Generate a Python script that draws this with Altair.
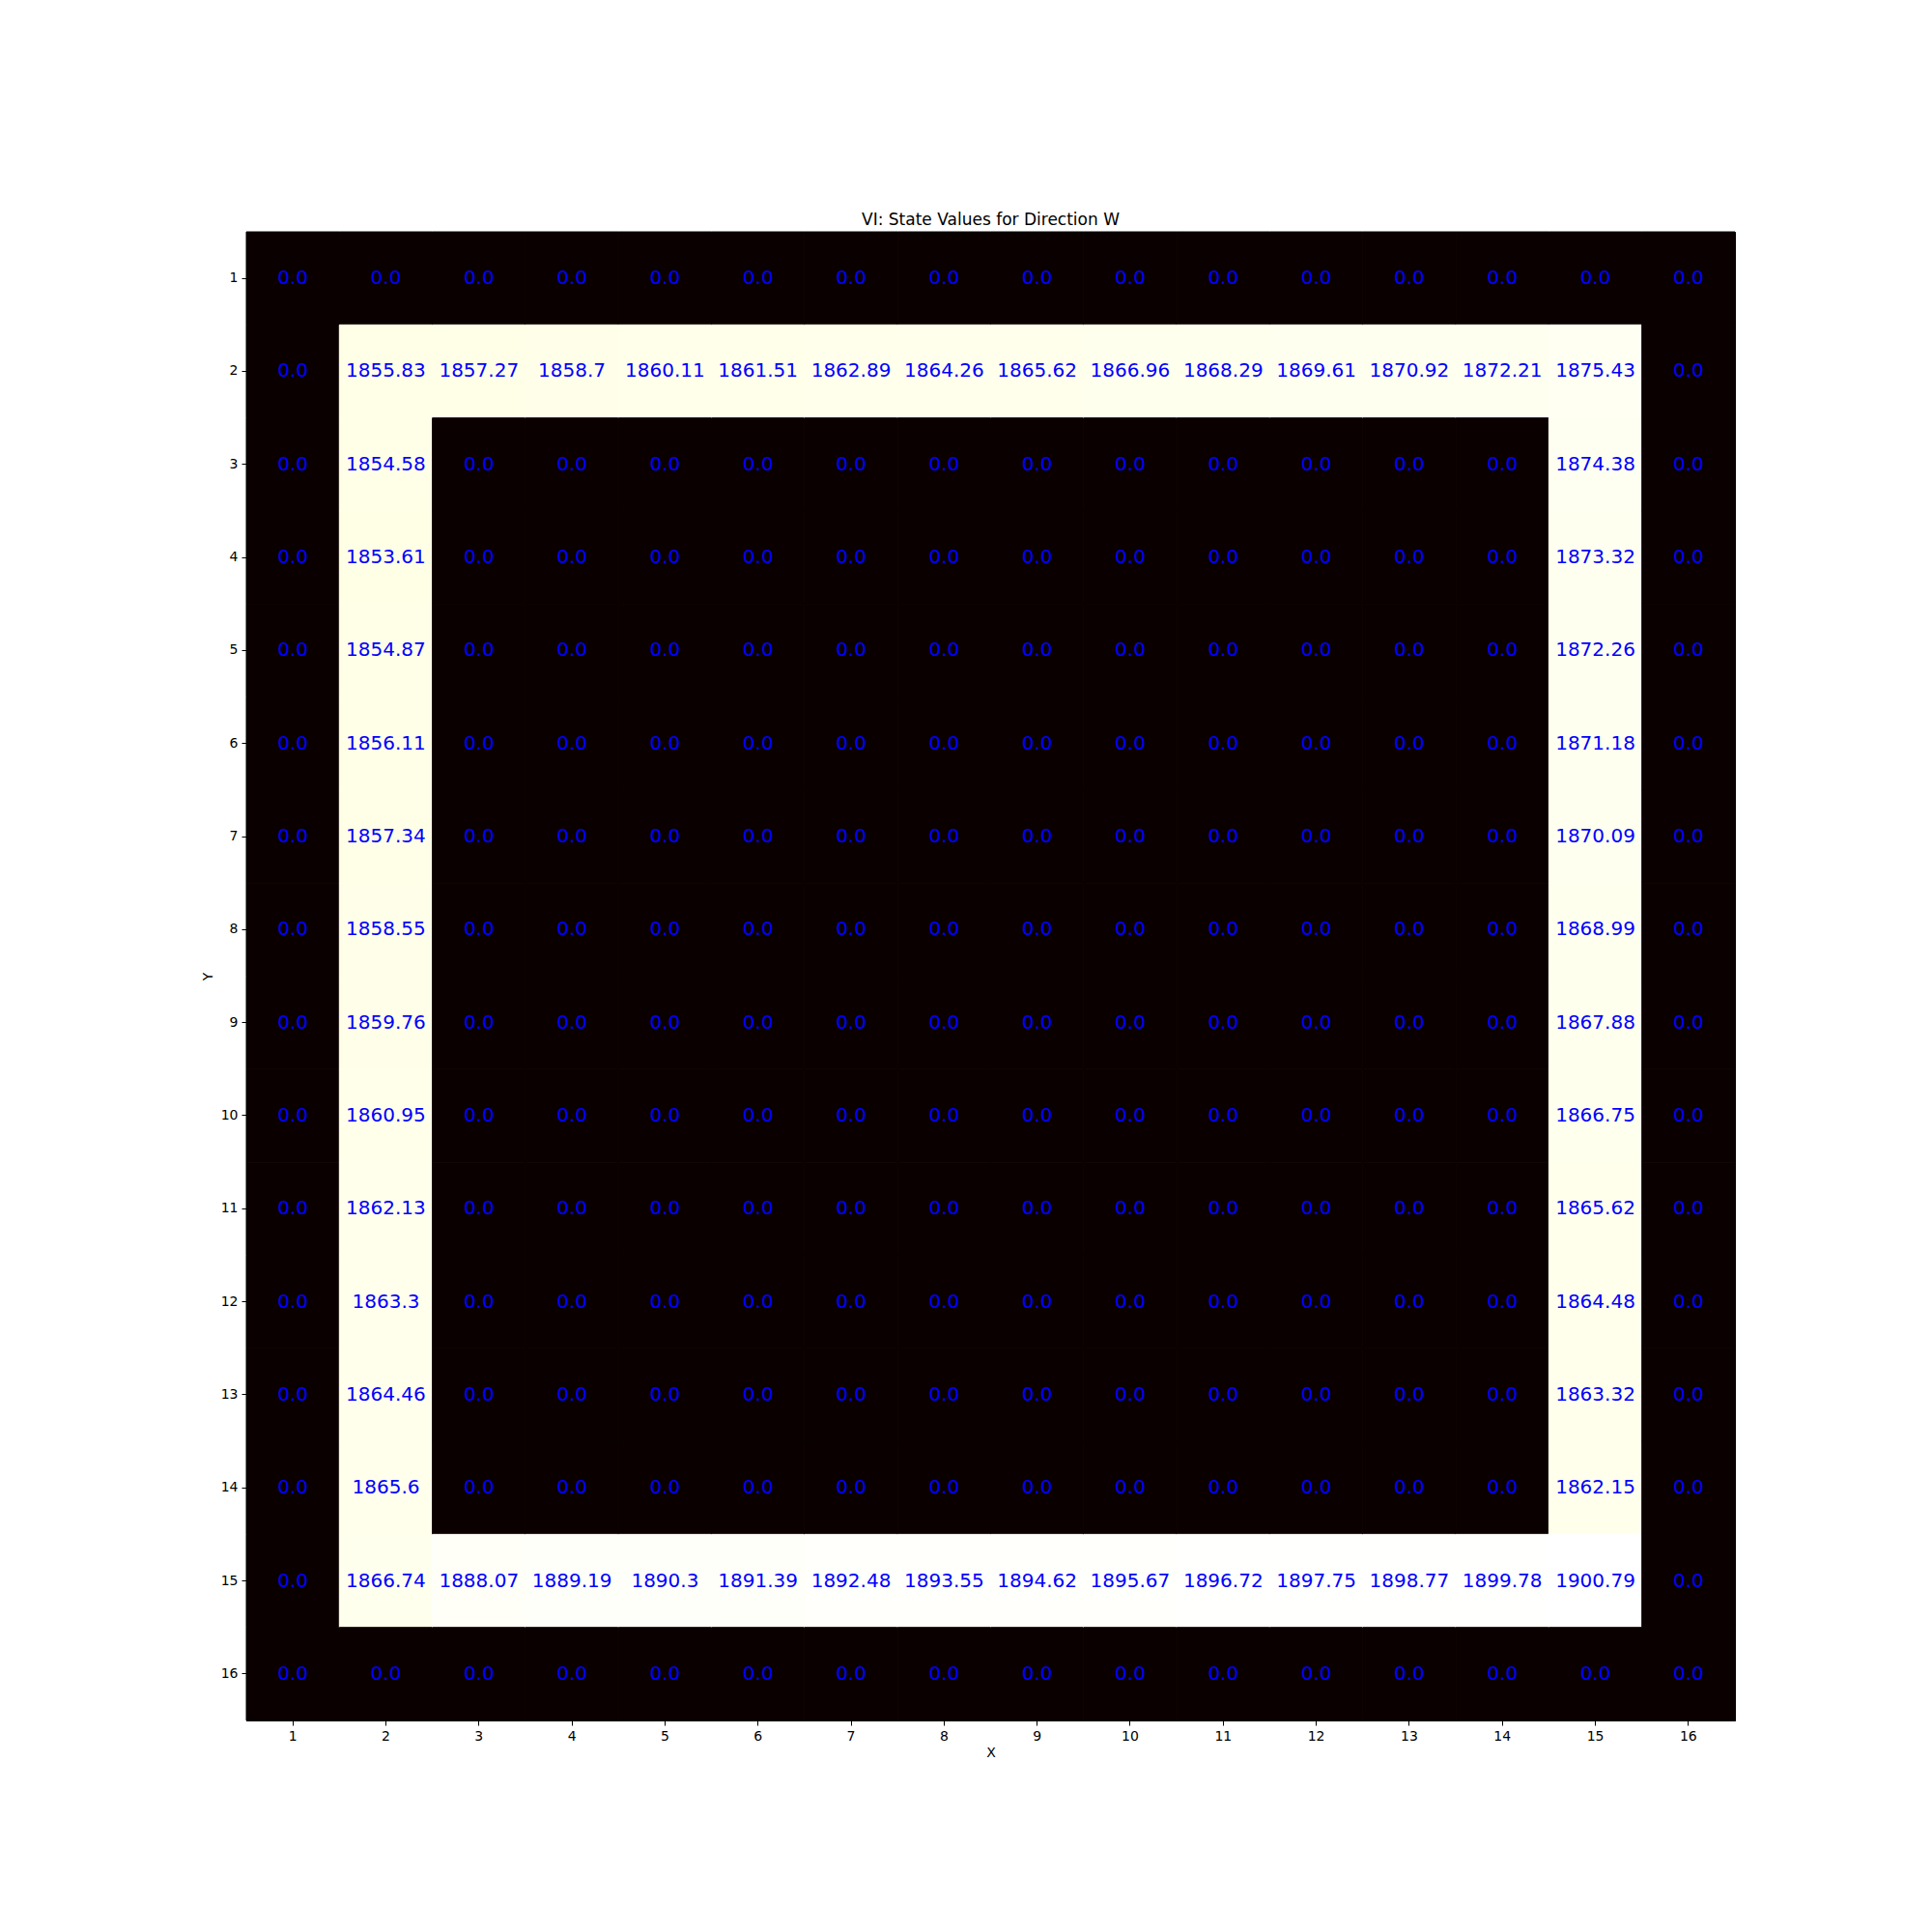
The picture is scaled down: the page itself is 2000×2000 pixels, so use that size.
import altair as alt
import pandas as pd

# ---- data ----
x_ticks = list(range(1, 17))
y_ticks = list(range(1, 17))

# row Y=2, X=2..15
top_row = [1855.83, 1857.27, 1858.7, 1860.11, 1861.51, 1862.89, 1864.26,
           1865.62, 1866.96, 1868.29, 1869.61, 1870.92, 1872.21, 1875.43]
# column X=2, Y=3..14
left_col = [1854.58, 1853.61, 1854.87, 1856.11, 1857.34, 1858.55,
            1859.76, 1860.95, 1862.13, 1863.3, 1864.46, 1865.6]
# row Y=15, X=2..15
bottom_row = [1866.74, 1888.07, 1889.19, 1890.3, 1891.39, 1892.48, 1893.55,
              1894.62, 1895.67, 1896.72, 1897.75, 1898.77, 1899.78, 1900.79]
# column X=15, Y=3..14
right_col = [1874.38, 1873.32, 1872.26, 1871.18, 1870.09, 1868.99,
             1867.88, 1866.75, 1865.62, 1864.48, 1863.32, 1862.15]

grid = {(x, y): 0.0 for x in x_ticks for y in y_ticks}
for i, v in enumerate(top_row):
    grid[(i + 2, 2)] = v
for i, v in enumerate(bottom_row):
    grid[(i + 2, 15)] = v
for i, v in enumerate(left_col):
    grid[(2, i + 3)] = v
for i, v in enumerate(right_col):
    grid[(15, i + 3)] = v

df = pd.DataFrame(
    [{"X": x, "Y": y, "value": v, "label": str(v)} for (x, y), v in grid.items()]
)

vmax = max(grid.values())
# matplotlib "hot" colormap stops
hot_stops = [0.0, 0.365079, 0.746032, 1.0]
hot_colors = ["#0b0000", "#ff0000", "#ffff00", "#ffffff"]

FONT = "DejaVu Sans"

base = alt.Chart(df)

xenc = alt.X("X:O", sort="ascending",
             scale=alt.Scale(paddingInner=0, paddingOuter=0),
             axis=alt.Axis(title="X", labelAngle=0, orient="bottom"))
yenc = alt.Y("Y:O", sort="ascending",
             scale=alt.Scale(paddingInner=0, paddingOuter=0),
             axis=alt.Axis(title="Y", orient="left"))

hot_scale = alt.Scale(type="linear", domain=[s * vmax for s in hot_stops],
                      range=hot_colors, interpolate="rgb")

rects = base.mark_rect(strokeWidth=1).encode(
    x=xenc,
    y=yenc,
    color=alt.Color("value:Q", legend=None, scale=hot_scale),
    stroke=alt.Stroke("value:Q", legend=None, scale=hot_scale),
)

texts = base.mark_text(color="#0000ff", fontSize=20, font=FONT,
                       align="center", baseline="middle").encode(
    x=alt.X("X:O", sort="ascending"),
    y=alt.Y("Y:O", sort="ascending"),
    text="label:N",
)

chart = alt.layer(rects, texts).properties(
    width=1541,
    height=1541,
    title=alt.TitleParams("VI: State Values for Direction W", fontSize=17,
                          font=FONT, fontWeight="normal", color="black",
                          anchor="middle", baseline="alphabetic", offset=-10),
    autosize=alt.AutoSizeParams(type="none"),
    padding={"left": 255, "top": 240, "right": 204, "bottom": 219},
    background="white",
).configure_axis(
    labelFont=FONT, labelFontSize=14, labelColor="black",
    titleFont=FONT, titleFontSize=14, titleFontWeight="normal", titleColor="black",
    tickColor="black", tickSize=5, tickWidth=1,
    domainColor="black", domainWidth=1, labelPadding=4, grid=False,
).configure_axisX(titlePadding=3).configure_axisY(titlePadding=6).configure_view(
    stroke="black", strokeWidth=1
)

chart.save("out.html", embed_options={"renderer": "svg", "actions": False})
